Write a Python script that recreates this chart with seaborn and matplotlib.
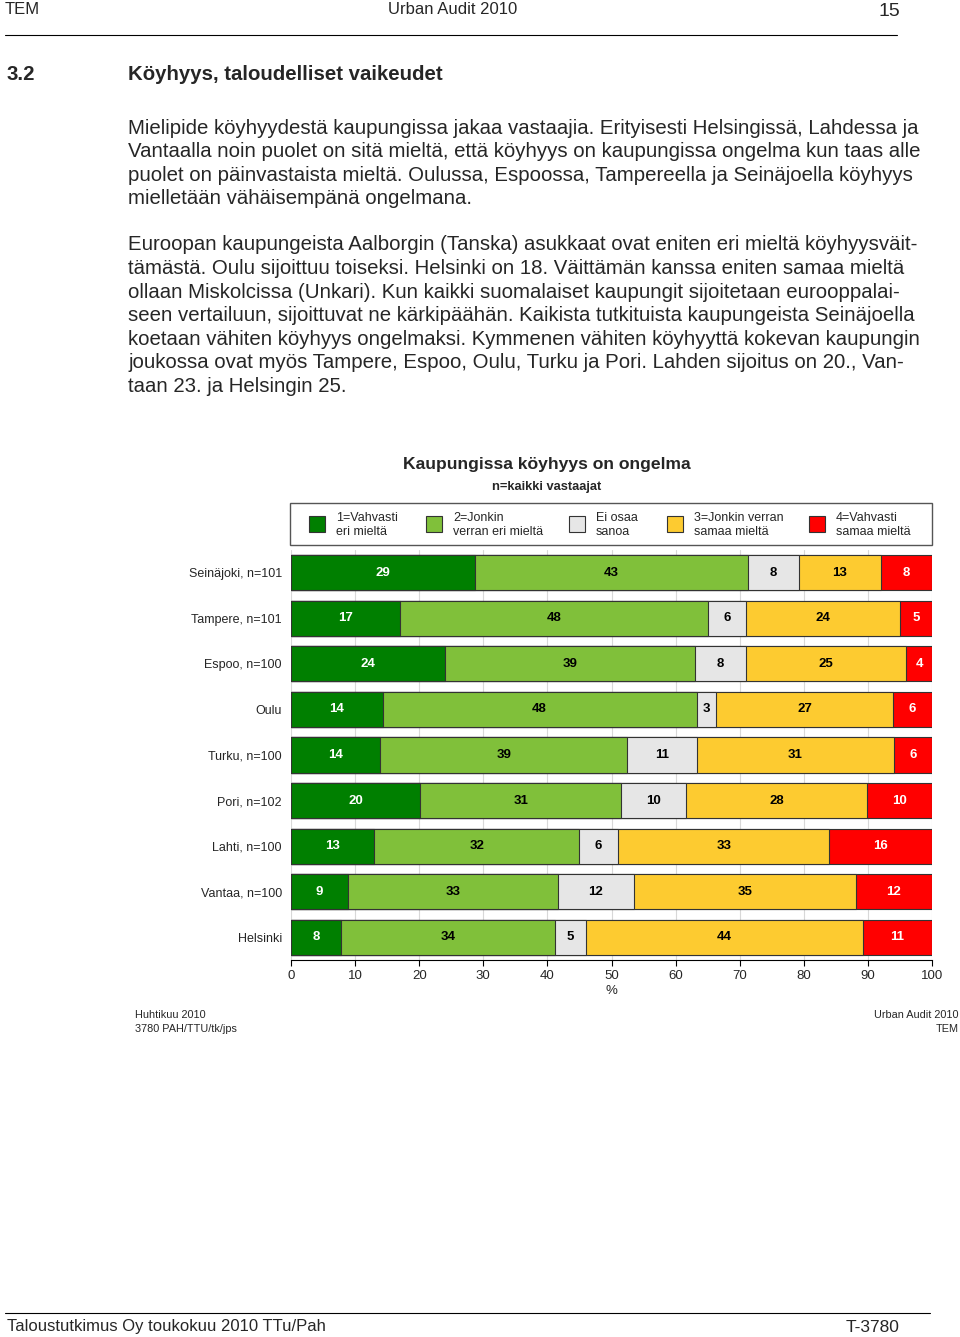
import matplotlib.pyplot as plt
import pandas as pd
import seaborn as sns
from matplotlib.patches import Rectangle
from matplotlib.lines import Line2D

sns.set_theme(style='white')
plt.rcParams['font.family'] = ['Liberation Sans', 'DejaVu Sans']

# Data (displayed percentages).
cities = ['Seinäjoki, n=101', 'Tampere, n=101', 'Espoo, n=100', 'Oulu', 'Turku, n=100',
          'Pori, n=102', 'Lahti, n=100', 'Vantaa, n=100', 'Helsinki']
vahvasti_eri = [29, 17, 24, 14, 14, 20, 13, 9, 8]
jonkin_eri = [43, 48, 39, 48, 39, 31, 32, 33, 34]
ei_osaa = [8, 6, 8, 3, 11, 10, 6, 12, 5]
jonkin_samaa = [13, 24, 25, 27, 31, 28, 33, 35, 44]
vahvasti_samaa = [8, 5, 4, 6, 6, 10, 16, 12, 11]

series_labels = ['1=Vahvasti\neri mieltä', '2=Jonkin\nverran eri mieltä', 'Ei osaa\nsanoa',
                 '3=Jonkin verran\nsamaa mieltä', '4=Vahvasti\nsamaa mieltä']
colors = ['#007f00', '#80c03a', '#e6e6e6', '#fdcb30', '#ff0000']
text_colors = ['white', 'black', 'black', 'black', 'white']

df = pd.DataFrame({'city': cities, 's1': vahvasti_eri, 's2': jonkin_eri, 's3': ei_osaa,
                   's4': jonkin_samaa, 's5': vahvasti_samaa})
cols = ['s1', 's2', 's3', 's4', 's5']
# 100 % stacked: scale each row to its total
shares = df[cols].div(df[cols].sum(axis=1), axis=0) * 100
cum = shares.cumsum(axis=1)
cum['city'] = df['city']

W, H = 960, 1337
fig = plt.figure(figsize=(W / 100, H / 100), dpi=100)


def fx(px):
    return px / W


def fy(py):
    return 1 - py / H


# Page header
fig.text(fx(5), fy(9), 'TEM', fontsize=12, va='center', ha='left')
fig.text(fx(453), fy(9), 'Urban Audit 2010', fontsize=12, va='center', ha='center')
fig.text(fx(900), fy(12), '15', fontsize=14, va='center', ha='right')
fig.add_artist(Line2D([fx(5), fx(897)], [fy(35), fy(35)], color='black', lw=0.8))

fig.text(fx(7), fy(75), '3.2', fontsize=14.7, fontweight='bold', va='center')
fig.text(fx(128), fy(75), 'Köyhyys, taloudelliset vaikeudet', fontsize=14.7, fontweight='bold', va='center')

para1 = [
    'Mielipide köyhyydestä kaupungissa jakaa vastaajia. Erityisesti Helsingissä, Lahdessa ja',
    'Vantaalla noin puolet on sitä mieltä, että köyhyys on kaupungissa ongelma kun taas alle',
    'puolet on päinvastaista mieltä. Oulussa, Espoossa, Tampereella ja Seinäjoella köyhyys',
    'mielletään vähäisempänä ongelmana.',
]
para2 = [
    'Euroopan kaupungeista Aalborgin (Tanska) asukkaat ovat eniten eri mieltä köyhyysväit-',
    'tämästä. Oulu sijoittuu toiseksi. Helsinki on 18. Väittämän kanssa eniten samaa mieltä',
    'ollaan Miskolcissa (Unkari). Kun kaikki suomalaiset kaupungit sijoitetaan eurooppalai-',
    'seen vertailuun, sijoittuvat ne kärkipäähän. Kaikista tutkituista kaupungeista Seinäjoella',
    'koetaan vähiten köyhyys ongelmaksi. Kymmenen vähiten köyhyyttä kokevan kaupungin',
    'joukossa ovat myös Tampere, Espoo, Oulu, Turku ja Pori. Lahden sijoitus on 20., Van-',
    'taan 23. ja Helsingin 25.',
]
for i, line in enumerate(para1):
    fig.text(fx(128), fy(128 + i * 23.6), line, fontsize=14.7, va='center')
for i, line in enumerate(para2):
    fig.text(fx(128), fy(245 + i * 23.6), line, fontsize=14.7, va='center')

# Chart titles
fig.text(fx(547), fy(464), 'Kaupungissa köyhyys on ongelma', fontsize=12.6, fontweight='bold',
         ha='center', va='center')
fig.text(fx(547), fy(487), 'n=kaikki vastaajat', fontsize=9.3, fontweight='bold', ha='center', va='center')

# Legend box
fig.add_artist(Rectangle((fx(290), fy(545)), fx(932) - fx(290), fy(503) - fy(545),
                         transform=fig.transFigure, facecolor='white', edgecolor='#555555', lw=1))
marker_x = [317, 434, 577, 675, 817]
for mx, lab, c in zip(marker_x, series_labels, colors):
    fig.add_artist(Rectangle((fx(mx - 8), fy(532)), 16 / W, 16 / H, transform=fig.transFigure,
                             facecolor=c, edgecolor='#333333', lw=0.8))
    fig.text(fx(mx + 19), fy(525), lab, fontsize=9, va='center', ha='left', linespacing=1.2)

# Bars
ax = fig.add_axes([fx(291), fy(960), (932 - 291) / W, 410 / H])
for k in range(len(cols) - 1, -1, -1):
    sns.barplot(data=cum, x=cols[k], y='city', color=colors[k], width=0.77, orient='h',
                edgecolor='#333333', linewidth=0.8, saturation=1, ax=ax)

vals = df[cols].values
for i in range(len(cities)):
    left = 0
    for k in range(len(cols)):
        w = shares.iloc[i, k]
        ax.text(left + w / 2, i, str(vals[i, k]), ha='center', va='center', fontsize=9.5,
                fontweight='bold', color=text_colors[k])
        left += w

ax.set_xlim(0, 100)
ax.set_ylim(8.5, -0.5)
ax.set_xticks(range(0, 101, 10))
ax.set_axisbelow(True)
ax.xaxis.grid(True, color='#d8d8d8', lw=0.8)
ax.yaxis.grid(False)
for s in ['left', 'top', 'right']:
    ax.spines[s].set_visible(False)
ax.spines['bottom'].set_color('black')
ax.spines['bottom'].set_linewidth(0.8)
ax.tick_params(axis='x', bottom=True, length=4, width=0.8, color='black', pad=3, labelsize=9.5)
ax.tick_params(axis='y', length=0, pad=6.5, labelsize=9)
ax.set_ylabel('')
ax.set_xlabel('%', fontsize=9.5, labelpad=2)

# Chart footnotes
fig.text(fx(135), fy(1015), 'Huhtikuu 2010', fontsize=7.8, va='center')
fig.text(fx(135), fy(1029), '3780 PAH/TTU/tk/jps', fontsize=7.8, va='center')
fig.text(fx(959), fy(1015), 'Urban Audit 2010', fontsize=7.8, va='center', ha='right')
fig.text(fx(959), fy(1029), 'TEM', fontsize=7.8, va='center', ha='right')

# Page footer
fig.add_artist(Line2D([fx(5), fx(930)], [fy(1313), fy(1313)], color='black', lw=0.8))
fig.text(fx(7), fy(1327), 'Taloustutkimus Oy toukokuu 2010 TTu/Pah', fontsize=12, va='center')
fig.text(fx(900), fy(1327), 'T-3780', fontsize=12.5, va='center', ha='right')

fig.savefig('out.png', dpi=100, facecolor='white')
